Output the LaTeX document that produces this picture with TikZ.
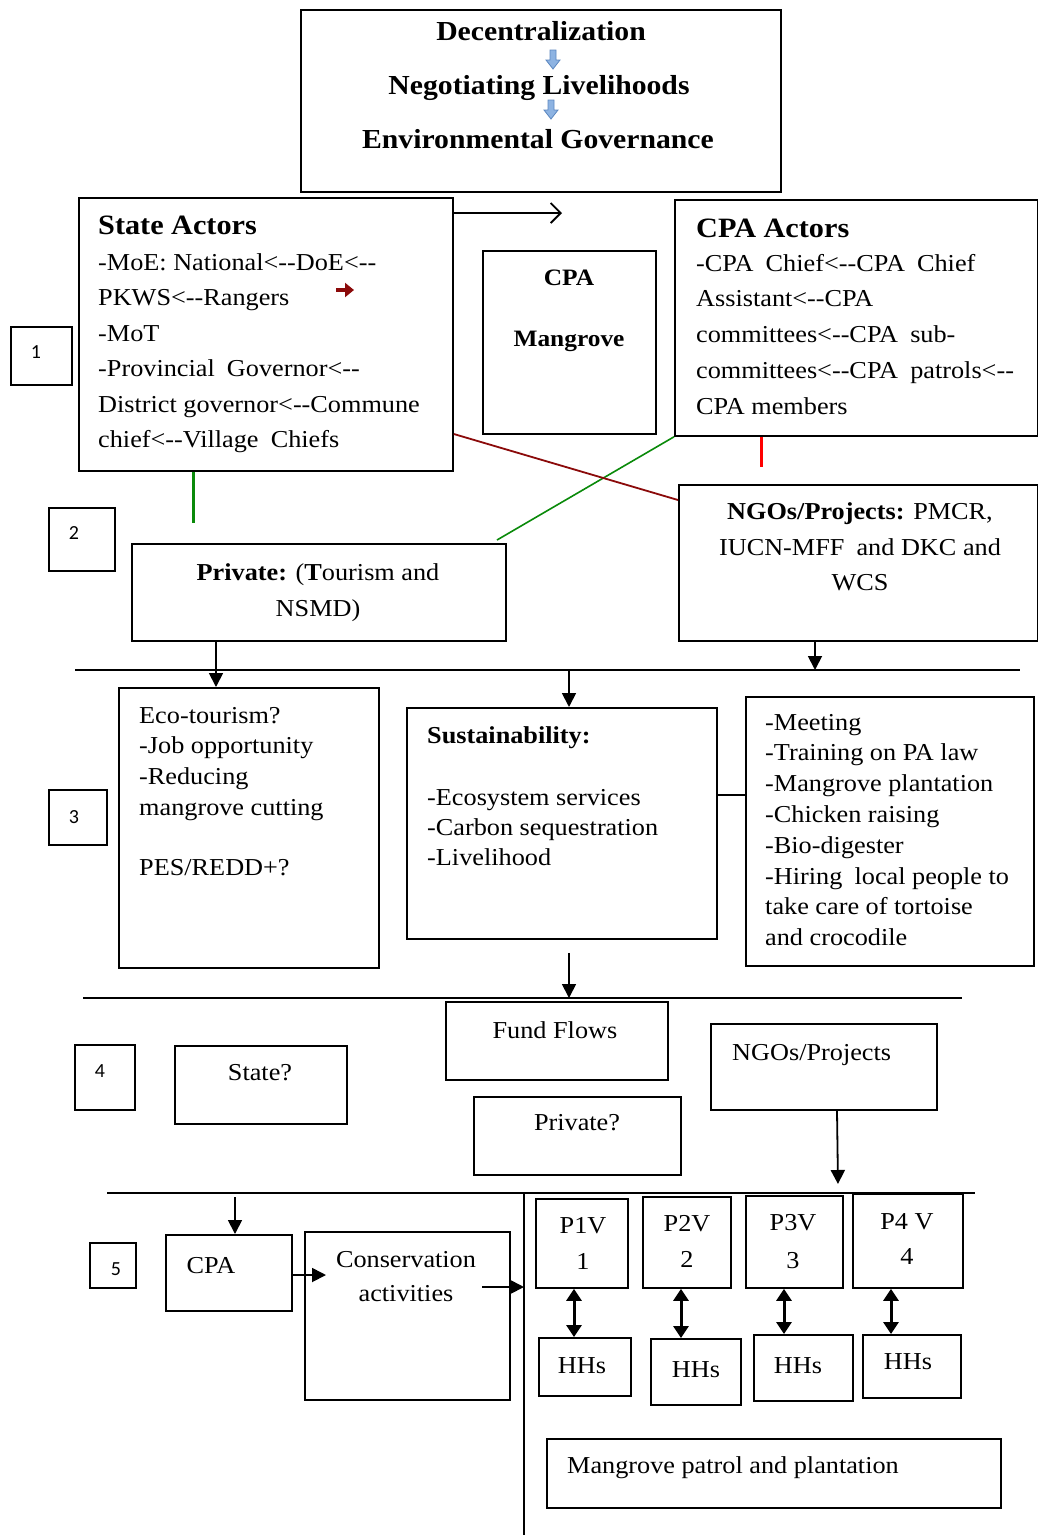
\documentclass[tikz,border=0pt]{standalone}
\usepackage{fontspec}
\setmainfont{Liberation Serif}[FakeStretch=1.08]
\newfontfamily\numfont{Carlito}
\usetikzlibrary{arrows.meta}
\definecolor{dred}{HTML}{8B0A0A}
\definecolor{lgreen}{HTML}{0A8A0A}
\definecolor{bfill}{HTML}{8DB3E2}
\definecolor{bdraw}{HTML}{5B87C0}
\begin{document}
\begin{tikzpicture}[x=1pt,y=-1pt,
  box/.style={draw, line width=1.8pt, anchor=north west, inner sep=0pt},
  tx/.style={inner sep=0pt, font=\fontsize{24.3}{29}\selectfont},
  hd/.style={inner sep=0pt, font=\fontsize{28}{30}\selectfont\bfseries},
  num/.style={inner sep=0pt, font=\numfont\fontsize{20}{24}\selectfont},
  arr/.style={line width=1.8pt, -{Triangle[length=14pt,width=14pt]}},
  darr/.style={line width=3pt, {Triangle[length=12pt,width=15pt]}-{Triangle[length=12pt,width=15pt]}},
  rule/.style={line width=1.8pt},
  blk/.style={fill=bfill, draw=bdraw, line width=0.8pt}]
\useasboundingbox (0,0) rectangle (1038,1535);
\fill[white] (0,0) rectangle (1038,1535);

% ---------- boxes ----------
\node[box,minimum width=480pt,minimum height=182pt] (title) at (300,9) {};
\node[box,minimum width=374pt,minimum height=273pt] (state) at (78,197) {};
\node[box,minimum width=173pt,minimum height=183pt] (cpam) at (482,250) {};
\node[box,minimum width=363pt,minimum height=236pt] (cpaact) at (674,199) {};
\node[box,minimum width=61pt,minimum height=58pt] (n1) at (10,326) {};
\node[box,minimum width=66pt,minimum height=63pt] (n2) at (48,507) {};
\node[box,minimum width=374pt,minimum height=97pt] (priv) at (131,543) {};
\node[box,minimum width=359pt,minimum height=156pt] (ngo) at (678,484) {};
\node[box,minimum width=58pt,minimum height=55pt] (n3) at (48,789) {};
\node[box,minimum width=260pt,minimum height=280pt] (eco) at (118,687) {};
\node[box,minimum width=310pt,minimum height=231pt] (sust) at (406,707) {};
\node[box,minimum width=288pt,minimum height=269pt] (act) at (745,696) {};
\node[box,minimum width=222pt,minimum height=78pt] (fund) at (445,1001) {};
\node[box,minimum width=60pt,minimum height=65pt] (n4) at (74,1044) {};
\node[box,minimum width=172pt,minimum height=78pt] (stq) at (174,1045) {};
\node[box,minimum width=207pt,minimum height=78pt] (prq) at (473,1096) {};
\node[box,minimum width=226pt,minimum height=86pt] (ngo2) at (710,1023) {};
\node[box,minimum width=46pt,minimum height=45pt] (n5) at (89,1242) {};
\node[box,minimum width=126pt,minimum height=76pt] (cpa) at (165,1234) {};
\node[box,minimum width=205pt,minimum height=168pt] (cons) at (304,1231) {};
\node[box,minimum width=92pt,minimum height=89pt] (p1) at (535,1198) {};
\node[box,minimum width=88pt,minimum height=91pt] (p2) at (642,1196) {};
\node[box,minimum width=97pt,minimum height=92pt] (p3) at (745,1195) {};
\node[box,minimum width=110pt,minimum height=94pt] (p4) at (852,1193) {};
\node[box,minimum width=92pt,minimum height=58pt] (h1) at (538,1337) {};
\node[box,minimum width=90pt,minimum height=66pt] (h2) at (650,1338) {};
\node[box,minimum width=99pt,minimum height=66pt] (h3) at (753,1334) {};
\node[box,minimum width=98pt,minimum height=63pt] (h4) at (862,1334) {};
\node[box,minimum width=454pt,minimum height=69pt] (mp) at (546,1438) {};

% ---------- title ----------
\node[hd, font=\fontsize{27.5}{30}\selectfont\bfseries, anchor=base] (t1) at (541,40) {Decentralization};
\node[hd, font=\fontsize{27.5}{30}\selectfont\bfseries, anchor=base] (t2) at (539,94) {Negotiating Livelihoods};
\node[hd, font=\fontsize{27.5}{30}\selectfont\bfseries, anchor=base] (t3) at (538,148) {Environmental Governance};
\filldraw[blk] (550,50) -- (556,50) -- (556,60) -- (560,60) -- (553,69) -- (546,60) -- (550,60) -- cycle;
\filldraw[blk] (548,100) -- (554,100) -- (554,110) -- (558,110) -- (551,119) -- (544,110) -- (548,110) -- cycle;

% ---------- level 1 ----------
\node[hd, anchor=base west] (sth) at (98,234) {State Actors};
\foreach \s [count=\i] in {-MoE: National<-{}-DoE<-{}-, PKWS<-{}-Rangers, -MoT, -Provincial\enspace Governor<-{}-, District governor<-{}-Commune, chief<-{}-Village\enspace Chiefs}
  \node[tx, anchor=base west] (st\i) at (98,{270+35.5*(\i-1)}) {\s};

\node[hd, font=\fontsize{23.5}{30}\selectfont\bfseries, anchor=base] (cm1) at (569,285) {CPA};
\node[hd, font=\fontsize{23.5}{30}\selectfont\bfseries, anchor=base] (cm2) at (569,346) {Mangrove};

\node[hd, anchor=base west] (cah) at (696,237) {CPA Actors};
\foreach \s [count=\i] in {-CPA\enspace Chief<-{}-CPA\enspace Chief, Assistant<-{}-CPA, committees<-{}-CPA\enspace sub-, committees<-{}-CPA\enspace patrols<-{}-, CPA members}
  \node[tx, anchor=base west] (ca\i) at (696,{271+35.8*(\i-1)}) {\s};

\node[num] (l1) at (36,352) {1};
\node[num] (l2) at (74,533) {2};
\node[num] (l3) at (74,817) {3};
\node[num] (l4) at (100,1071) {4};
\node[num] (l5) at (116,1269) {5};

% ---------- level 2 ----------
\node[tx, anchor=base] (pv1) at (318,580) {\textbf{Private:} (\textbf{T}ourism and};
\node[tx, anchor=base] (pv2) at (318,616) {NSMD)};
\node[tx, anchor=base] (ng1) at (860,519) {\textbf{NGOs/Projects:} PMCR,};
\node[tx, anchor=base] (ng2) at (860,555) {IUCN-MFF\enspace and DKC and};
\node[tx, anchor=base] (ng3) at (860,590) {WCS};

% ---------- level 3 ----------
\node[tx, anchor=base west] (ec1) at (139,723) {Eco-tourism?};
\node[tx, anchor=base west] (ec2) at (139,753.5) {-Job opportunity};
\node[tx, anchor=base west] (ec3) at (139,784) {-Reducing};
\node[tx, anchor=base west] (ec4) at (139,815) {mangrove cutting};
\node[tx, anchor=base west] (ec5) at (139,875) {PES/REDD+?};
\node[tx, font=\fontsize{24.3}{29}\selectfont\bfseries, anchor=base west] (suh) at (427,743) {Sustainability:};
\foreach \s [count=\i] in {-Ecosystem services, -Carbon sequestration, -Livelihood}
  \node[tx, anchor=base west] (su\i) at (427,{805+30*(\i-1)}) {\s};
\foreach \s [count=\i] in {-Meeting, -Training on PA law, -Mangrove plantation, -Chicken raising, -Bio-digester, -Hiring\enspace local people to, take care of tortoise, and crocodile}
  \node[tx, anchor=base west] (ac\i) at (765,{730+30.8*(\i-1)}) {\s};

% ---------- level 4 ----------
\node[tx, anchor=base] (fft) at (555,1038) {Fund Flows};
\node[tx, anchor=base] (stqt) at (260,1080) {State?};
\node[tx, anchor=base] (prqt) at (577,1130) {Private?};
\node[tx, anchor=base west] (ng2t) at (732,1060) {NGOs/Projects};

% ---------- level 5 ----------
\node[tx, anchor=base] (cpat) at (211,1273) {CPA};
\node[tx, anchor=base] (co1) at (406,1267) {Conservation};
\node[tx, anchor=base] (co2) at (406,1301) {activities};
\node[tx, anchor=base] (p1a) at (583,1233) {P1V};
\node[tx, anchor=base] (p1b) at (583,1269) {1};
\node[tx, anchor=base] (p2a) at (687,1231) {P2V};
\node[tx, anchor=base] (p2b) at (687,1267) {2};
\node[tx, anchor=base] (p3a) at (793,1230) {P3V};
\node[tx, anchor=base] (p3b) at (793,1268) {3};
\node[tx, anchor=base] (p4a) at (907,1229) {P4 V};
\node[tx, anchor=base] (p4b) at (907,1264) {4};
\node[tx, anchor=base] (h1t) at (582,1373) {HHs};
\node[tx, anchor=base] (h2t) at (696,1377) {HHs};
\node[tx, anchor=base] (h3t) at (798,1373) {HHs};
\node[tx, anchor=base] (h4t) at (908,1369) {HHs};
\node[tx, anchor=base west] (mpt) at (567,1473) {Mangrove patrol and plantation};

% ---------- separators ----------
\coordinate (s1l) at (75,670);  \coordinate (s1r) at (1020,670);
\coordinate (s2l) at (83,998);  \coordinate (s2r) at (962,998);
\coordinate (s3l) at (107,1193); \coordinate (s3r) at (975,1193);
\coordinate (vt) at (524,1193); \coordinate (vb) at (524,1535);
\draw[rule] (s1l) -- (s1r);
\draw[rule] (s2l) -- (s2r);
\draw[rule] (s3l) -- (s3r);
\draw[rule] (vt) -- (vb);

% ---------- connectors ----------
\coordinate (ta) at (562,213);
\draw[line width=1.8pt, -{Straight Barb[length=10pt,width=20pt]}] (state.east |- ta) -- (ta);
\coordinate (ra1) at (336,290); \coordinate (ra2) at (354,290);
\draw[dred, line width=4pt, -{Triangle[length=9pt,width=14pt]}] (ra1) -- (ra2);

\coordinate (g1) at (193,523);
\draw[lgreen, line width=3pt] (g1 |- state.south) -- (g1);
\coordinate (g2) at (497,540);
\draw[lgreen, line width=1.6pt] (cpaact.south west) -- (g2);
\coordinate (r1) at (761,467);
\draw[red, line width=3pt] (r1 |- cpaact.south) -- (r1);
\coordinate (d1) at (452,434); \coordinate (d2) at (678,500);
\draw[dred, line width=1.8pt] (state.east |- d1) -- (ngo.west |- d2);

\draw[arr] ([xshift=85pt]priv.south west) -- ([xshift=85pt]priv.south west |- eco.north);
\draw[arr] ([xshift=137pt]ngo.south west) -- ([xshift=137pt]ngo.south west |- s1l);
\draw[arr] ([xshift=163pt]sust.north west |- s1l) -- ([xshift=163pt]sust.north west);
\coordinate (sa) at (716,795);
\draw[line width=1.6pt] (sust.east |- sa) -- (act.west |- sa);
\draw[arr] ([xshift=163pt,yshift=-13pt]sust.south west) -- ([xshift=163pt]sust.south west |- s2l);
\coordinate (ne) at (838,1184);
\draw[arr] ([xshift=127pt]ngo2.south west) -- (ne);
\coordinate (c5) at (235,1197);
\draw[arr] (c5) -- (c5 |- cpa.north);
\coordinate (cc) at (326,1275);
\draw[arr] (cpa.east |- cc) -- (cc);
\coordinate (cs) at (482,1287); \coordinate (cv) at (524,1287);
\draw[arr] (cs) -- (cv);

\draw[darr] ([xshift=39pt]p1.south west) -- ([xshift=39pt]p1.south west |- h1.north);
\draw[darr] ([xshift=39pt]p2.south west) -- ([xshift=39pt]p2.south west |- h2.north);
\draw[darr] ([xshift=39pt]p3.south west) -- ([xshift=39pt]p3.south west |- h3.north);
\draw[darr] ([xshift=39pt]p4.south west) -- ([xshift=39pt]p4.south west |- h4.north);
\end{tikzpicture}
\end{document}
